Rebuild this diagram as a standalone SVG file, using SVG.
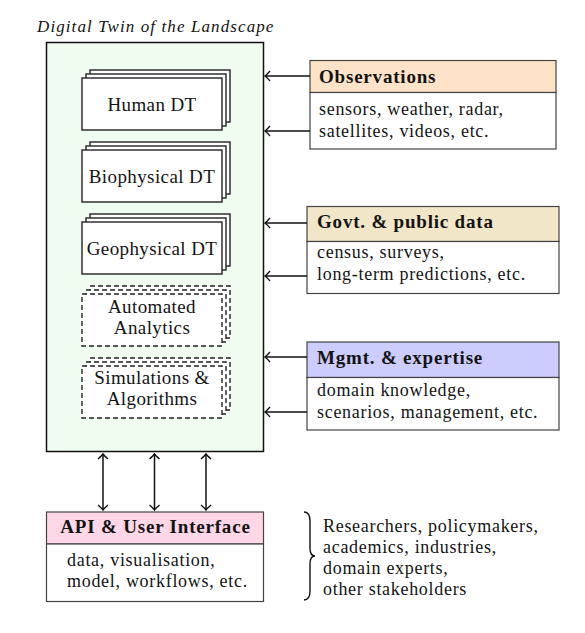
<svg xmlns="http://www.w3.org/2000/svg" width="585" height="633" viewBox="0 0 585 633" font-family="Liberation Serif, serif">
<defs>
<style>
text{font-family:"Liberation Serif",serif;fill:#141414;}
.lab{font-size:19px;letter-spacing:0.4px;text-anchor:middle;}
.hd{font-size:19px;font-weight:bold;letter-spacing:0.8px;}
.bd{font-size:18px;letter-spacing:0.7px;}
.st{fill:#fff;stroke:#222;stroke-width:1.4;}
.ds{fill:#fff;stroke:#222;stroke-width:1.4;stroke-dasharray:5,3;}
.box{stroke:#444;stroke-width:1.2;}
.con{stroke:#111;stroke-width:1.5;fill:none;}
</style>
<marker id="ah" viewBox="-7 -7 9 14" refX="0" refY="0" markerWidth="9" markerHeight="14" markerUnits="userSpaceOnUse" orient="auto-start-reverse">
<path d="M-5,-5 Q-1.5,-1 0,0 Q-1.5,1 -5,5" fill="none" stroke="#111" stroke-width="1.4"/>
</marker>
</defs>
<rect width="585" height="633" fill="#fff"/>
<text x="37" y="32" style="font-size:17px;font-style:italic;letter-spacing:1.1px">Digital Twin of the Landscape</text>
<g id="dt-container">
<rect x="46.5" y="42.5" width="217" height="409" fill="#f1fcf0" stroke="#111" stroke-width="1.5"/>
</g>
<g id="human-dt">
<rect class="st" x="90" y="70" width="140" height="52"/>
<rect class="st" x="86" y="74" width="140" height="52"/>
<rect class="st" x="82" y="78" width="140" height="52"/>
<text class="lab" x="152" y="111">Human DT</text>
</g>
<g id="biophysical-dt">
<rect class="st" x="90" y="142" width="140" height="52"/>
<rect class="st" x="86" y="146" width="140" height="52"/>
<rect class="st" x="82" y="150" width="140" height="52"/>
<text class="lab" x="152" y="183">Biophysical DT</text>
</g>
<g id="geophysical-dt">
<rect class="st" x="90" y="214" width="140" height="52"/>
<rect class="st" x="86" y="218" width="140" height="52"/>
<rect class="st" x="82" y="222" width="140" height="52"/>
<text class="lab" x="152" y="255">Geophysical DT</text>
</g>
<g id="automated-analytics">
<rect class="ds" x="90" y="286" width="140" height="52"/>
<rect class="ds" x="86" y="290" width="140" height="52"/>
<rect class="ds" x="82" y="294" width="140" height="52"/>
<text class="lab" x="152" y="313">Automated</text>
<text class="lab" x="152" y="334">Analytics</text>
</g>
<g id="simulations">
<rect class="ds" x="90" y="358" width="140" height="52"/>
<rect class="ds" x="86" y="362" width="140" height="52"/>
<rect class="ds" x="82" y="366" width="140" height="52"/>
<text class="lab" x="152" y="384">Simulations &amp;</text>
<text class="lab" x="152" y="405">Algorithms</text>
</g>
<g id="observations">
<rect class="box" x="310" y="60.5" width="246" height="32" fill="#ffe3c9"/>
<rect class="box" x="310" y="92.5" width="246" height="56.5" fill="#fff"/>
<text class="hd" x="319" y="83">Observations</text>
<text class="bd" x="319" y="115">sensors, weather, radar,</text>
<text class="bd" x="319" y="137">satellites, videos, etc.</text>
</g>
<g id="govt-data">
<rect class="box" x="307" y="206.5" width="252" height="35" fill="#f1e6c8"/>
<rect class="box" x="307" y="241.5" width="252" height="52" fill="#fff"/>
<text class="hd" x="317" y="228">Govt. &amp; public data</text>
<text class="bd" x="317" y="258">census, surveys,</text>
<text class="bd" x="317" y="280">long-term predictions, etc.</text>
</g>
<g id="mgmt-expertise">
<rect class="box" x="307" y="342" width="252" height="35.5" fill="#ccccfd"/>
<rect class="box" x="307" y="377.5" width="252" height="52.5" fill="#fff"/>
<text class="hd" x="317" y="364">Mgmt. &amp; expertise</text>
<text class="bd" x="317" y="396">domain knowledge,</text>
<text class="bd" x="317" y="418">scenarios, management, etc.</text>
</g>
<g id="api-ui">
<rect class="box" x="46.5" y="512" width="217" height="32" fill="#ffd7e6"/>
<rect class="box" x="46.5" y="544" width="217" height="57.5" fill="#fff"/>
<text class="hd" x="155.5" y="533" text-anchor="middle">API &amp; User Interface</text>
<text class="bd" x="67" y="566">data, visualisation,</text>
<text class="bd" x="67" y="587">model, workflows, etc.</text>
</g>
<g id="stakeholders">
<path d="M304,512 Q310,512 310,521 L310,548 Q310,556 315,556 Q310,556 310,564 L310,591 Q310,600 304,600" fill="none" stroke="#111" stroke-width="1.4"/>
<text class="bd" x="323" y="532">Researchers, policymakers,</text>
<text class="bd" x="323" y="553">academics, industries,</text>
<text class="bd" x="323" y="574">domain experts,</text>
<text class="bd" x="323" y="595">other stakeholders</text>
</g>
<g id="connectors">
<line class="con" x1="310" y1="76" x2="265" y2="76" marker-end="url(#ah)"/>
<line class="con" x1="310" y1="131" x2="265" y2="131" marker-end="url(#ah)"/>
<line class="con" x1="307" y1="223" x2="265" y2="223" marker-end="url(#ah)"/>
<line class="con" x1="307" y1="276" x2="265" y2="276" marker-end="url(#ah)"/>
<line class="con" x1="307" y1="357" x2="265" y2="357" marker-end="url(#ah)"/>
<line class="con" x1="307" y1="412" x2="265" y2="412" marker-end="url(#ah)"/>
<line class="con" x1="103" y1="454" x2="103" y2="510" marker-start="url(#ah)" marker-end="url(#ah)"/>
<line class="con" x1="154.5" y1="454" x2="154.5" y2="510" marker-start="url(#ah)" marker-end="url(#ah)"/>
<line class="con" x1="206" y1="454" x2="206" y2="510" marker-start="url(#ah)" marker-end="url(#ah)"/>
</g>
</svg>
